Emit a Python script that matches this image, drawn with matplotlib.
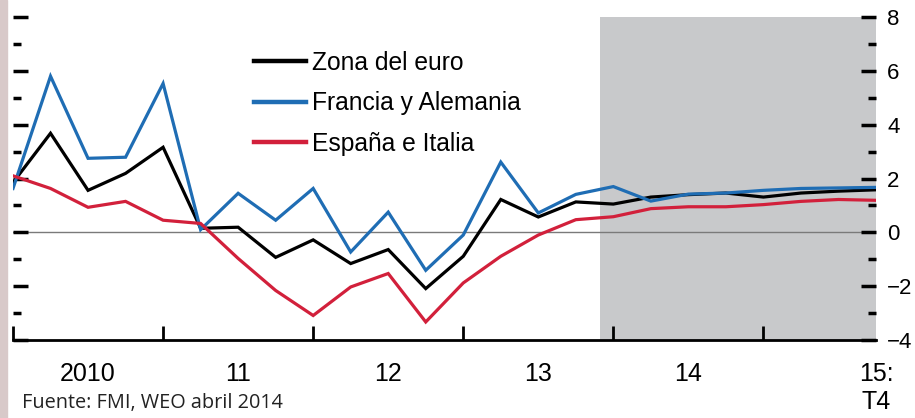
import matplotlib
matplotlib.use("Agg")
import matplotlib.pyplot as plt
from matplotlib.patches import Rectangle
from matplotlib.ticker import FixedLocator, MultipleLocator

# quarterly growth, 2010:T1 .. 2015:T4
zona_euro = [1.85, 3.68, 1.56, 2.19, 3.16, 0.15, 0.19, -0.93, -0.28, -1.16, -0.64, -2.09,
             -0.89, 1.22, 0.57, 1.13, 1.05, 1.31, 1.40, 1.46, 1.31, 1.46, 1.53, 1.58]
francia_alemania = [1.63, 5.80, 2.75, 2.79, 5.53, 0.10, 1.45, 0.45, 1.63, -0.73, 0.75, -1.41,
                    -0.10, 2.61, 0.72, 1.41, 1.70, 1.16, 1.42, 1.46, 1.56, 1.63, 1.65, 1.67]
espana_italia = [2.10, 1.63, 0.93, 1.15, 0.45, 0.33, -0.97, -2.16, -3.09, -2.03, -1.53, -3.33,
                 -1.88, -0.89, -0.10, 0.47, 0.58, 0.88, 0.95, 0.95, 1.03, 1.15, 1.22, 1.19]
series_names = ["Zona del euro", "Francia y Alemania", "España e Italia"]
year_labels = ["2010", "11", "12", "13", "14", "15:\nT4"]
year_label_pos = [2, 6, 10, 14, 18, 23]
proj_start = 15.65  # projections shaded from here
fuente = "Fuente: FMI, WEO abril 2014"

plt.rcParams["font.family"] = ["Liberation Sans", "DejaVu Sans"]

W, H = 915, 418
fig = plt.figure(figsize=(W / 100, H / 100), dpi=100)
ax = fig.add_axes([13 / W, 1 - 340 / H, (876 - 13) / W, (340 - 17) / H])

x = list(range(len(zona_euro)))
ax.axvspan(proj_start, x[-1], color="#c8c9cb", lw=0, zorder=0)
ax.axhline(0, color="#7a7a7a", lw=1.0, zorder=1)

colors = ["black", "#1f6db4", "#d2203b"]
for vals, name, c in zip([zona_euro, francia_alemania, espana_italia], series_names, colors):
    ax.plot(x, vals, color=c, lw=2.3, label=name, zorder=3, solid_joinstyle="miter")

ax.set_xlim(0, x[-1])
ax.set_ylim(-4, 8)

for s in ["top", "left", "right"]:
    ax.spines[s].set_visible(False)
ax.spines["bottom"].set_linewidth(2)

# x: year boundary ticks, labels placed inside each year
ax.xaxis.set_major_locator(FixedLocator([0, 4, 8, 12, 16, 20]))
ax.xaxis.set_major_formatter(plt.NullFormatter())
ax.xaxis.set_minor_locator(FixedLocator(year_label_pos))
ax.set_xticklabels(year_labels, minor=True, fontsize=18, linespacing=1.2,
                   va="top")
ax.tick_params(axis="x", which="major", direction="in", length=10, width=2)
ax.tick_params(axis="x", which="minor", length=0, pad=16)

# y: ticks both sides, labels on the right
ax.yaxis.set_major_locator(MultipleLocator(2))
ax.yaxis.set_minor_locator(MultipleLocator(1))
ax.tick_params(axis="y", which="both", direction="in", left=True, right=True,
               labelleft=False, labelright=True, width=2.5)
ax.tick_params(axis="y", which="major", length=11, labelsize=16, pad=8)
ax.tick_params(axis="y", which="minor", length=6)

leg = ax.legend(loc="upper left",
                bbox_to_anchor=((254 - 13) / (876 - 13), 1 - (51 - 17) / (340 - 17)),
                frameon=False, fontsize=17.7, handlelength=2.1, handletextpad=0.25,
                labelspacing=0.67, borderaxespad=0, borderpad=0)
for line in leg.get_lines():
    line.set_linewidth(3.2)

fig.text(22 / W, 1 - 403 / H, fuente, fontsize=14.3, color="#222222",
         family=["Open Sans", "DejaVu Sans"], va="center", ha="left")

fig.patches.append(Rectangle((0, 0), 7 / W, 1, transform=fig.transFigure,
                             color="#d8c9c9", zorder=-1))

fig.savefig("out.png", dpi=100)
